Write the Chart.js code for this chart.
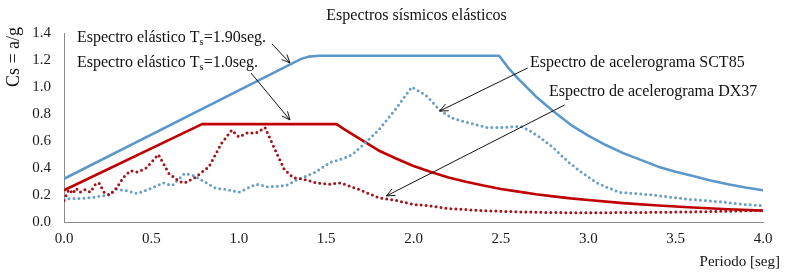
<!DOCTYPE html>
<html><head><meta charset="utf-8">
<script src="https://cdn.jsdelivr.net/npm/chart.js@4/dist/chart.umd.min.js"></script>
<style>html,body{margin:0;padding:0;background:#fff}canvas{display:block}</style>
</head><body>
<canvas id="c" width="786" height="273"></canvas>
<script>
// ---- Data ----
const elastic190T  = [0, 1.36, 1.40, 1.46, 2.49, 2.55, 2.60, 2.70, 2.80, 2.90, 3.00, 3.10, 3.20, 3.30, 3.40, 3.50, 3.60, 3.70, 3.80, 3.90, 4.00];
const elastic190Cs = [0.32, 1.21, 1.225, 1.232, 1.232, 1.13, 1.06, 0.93, 0.82, 0.72, 0.64, 0.57, 0.51, 0.46, 0.41, 0.373, 0.34, 0.308, 0.28, 0.256, 0.235];

const elastic100T  = [0, 0.79, 1.56, 1.60, 1.70, 1.80, 1.90, 2.00, 2.10, 2.20, 2.30, 2.40, 2.50, 2.60, 2.70, 2.80, 2.90, 3.00, 3.20, 3.40, 3.60, 3.80, 4.00];
const elastic100Cs = [0.235, 0.725, 0.725, 0.69, 0.61, 0.53, 0.47, 0.415, 0.37, 0.33, 0.298, 0.27, 0.245, 0.225, 0.206, 0.19, 0.175, 0.163, 0.14, 0.122, 0.107, 0.095, 0.084];

const sct85T  = [0, 0.05, 0.10, 0.15, 0.20, 0.26, 0.30, 0.36, 0.42, 0.50, 0.57, 0.62, 0.69, 0.75, 0.80, 0.87, 0.93, 1.00, 1.05, 1.10, 1.17, 1.27, 1.33, 1.44, 1.52, 1.60, 1.65, 1.71, 1.80, 1.90, 1.99, 2.07, 2.15, 2.22, 2.30, 2.42, 2.52, 2.61, 2.66, 2.72, 2.80, 2.89, 2.97, 3.05, 3.12, 3.18, 3.37, 3.56, 3.75, 3.90, 4.00];
const sct85Cs = [0.17, 0.175, 0.175, 0.18, 0.19, 0.20, 0.245, 0.23, 0.21, 0.25, 0.29, 0.27, 0.36, 0.34, 0.30, 0.25, 0.24, 0.22, 0.25, 0.28, 0.26, 0.27, 0.31, 0.37, 0.44, 0.47, 0.50, 0.57, 0.68, 0.84, 1.00, 0.94, 0.83, 0.77, 0.74, 0.70, 0.70, 0.71, 0.68, 0.63, 0.55, 0.44, 0.36, 0.29, 0.25, 0.22, 0.20, 0.17, 0.15, 0.13, 0.12];

const dx37T  = [0, 0.02, 0.03, 0.05, 0.07, 0.09, 0.12, 0.15, 0.18, 0.20, 0.23, 0.26, 0.30, 0.34, 0.38, 0.42, 0.47, 0.54, 0.60, 0.66, 0.69, 0.75, 0.83, 0.90, 0.96, 1.00, 1.05, 1.10, 1.15, 1.21, 1.26, 1.31, 1.39, 1.44, 1.52, 1.58, 1.69, 1.80, 1.90, 2.00, 2.09, 2.20, 2.38, 2.60, 2.80, 3.00, 3.20, 3.40, 3.60, 3.80, 4.00];
const dx37Cs = [0.16, 0.22, 0.24, 0.21, 0.25, 0.22, 0.24, 0.22, 0.28, 0.29, 0.22, 0.20, 0.25, 0.33, 0.38, 0.37, 0.40, 0.50, 0.36, 0.30, 0.29, 0.33, 0.41, 0.58, 0.68, 0.63, 0.66, 0.66, 0.70, 0.53, 0.39, 0.33, 0.31, 0.29, 0.28, 0.29, 0.24, 0.18, 0.16, 0.13, 0.12, 0.10, 0.085, 0.075, 0.07, 0.068, 0.07, 0.072, 0.075, 0.08, 0.086];

const xTickLabels = ['0.0', '0.5', '1.0', '1.5', '2.0', '2.5', '3.0', '3.5', '4.0'];
const yTickLabels = ['0.0', '0.2', '0.4', '0.6', '0.8', '1.0', '1.2', '1.4'];

const titleText = 'Espectros sísmicos elásticos';
const yTitle = 'Cs = a/g';
const xTitle = 'Periodo [seg]';

// annotation texts: [before subscript, subscript, after]
const labelTs190 = ['Espectro elástico T', 's', '=1.90seg.'];
const labelTs100 = ['Espectro elástico T', 's', '=1.0seg.'];
const labelSCT = 'Espectro de acelerograma SCT85';
const labelDX = 'Espectro de acelerograma DX37';

// ---- helpers ----
const pts = (xs, ys) => xs.map((x, i) => ({x: x, y: ys[i]}));
const SERIF = '"Liberation Serif", "Times New Roman", serif';
const BLUE = '#5b98c9';
const BLUE_DOT = '#6a9ec6';
const RED = '#c00000';
const RED_DOT = '#a3131b';

// annotation anchors in data units (T, Cs)
const notes = [
  {type: 'sub', parts: labelTs190, at: [0.074, 1.333], from: [1.19, 1.319], to: [1.293, 1.178]},
  {type: 'sub', parts: labelTs100, at: [0.074, 1.148], from: [1.07, 1.104], to: [1.293, 0.756]},
  {type: 'txt', text: labelSCT, at: [2.667, 1.148], from: [2.653, 1.141], to: [2.15, 0.822]},
  {type: 'txt', text: labelDX, at: [2.775, 0.933], from: [2.865, 0.867], to: [1.845, 0.193]}
];

const annotPlugin = {
  id: 'annot',
  afterDraw(chart) {
    const ctx = chart.ctx, xs = chart.scales.x, ys = chart.scales.y, ca = chart.chartArea;
    const px = v => xs.getPixelForValue(v), py = v => ys.getPixelForValue(v);
    ctx.save();
    ctx.fillStyle = '#111';
    ctx.textBaseline = 'alphabetic';
    // title
    ctx.font = '16px ' + SERIF;
    ctx.textAlign = 'center';
    ctx.fillText(titleText, (ca.left + ca.right) / 2 + 3, 20);
    // y title
    ctx.save();
    ctx.translate(19, 57);
    ctx.rotate(-Math.PI / 2);
    ctx.font = '18px ' + SERIF;
    ctx.fillText(yTitle, 0, 0);
    ctx.restore();
    // x title
    ctx.font = '15px ' + SERIF;
    ctx.textAlign = 'right';
    ctx.fillText(xTitle, 780, 266);
    // annotations
    ctx.textAlign = 'left';
    notes.forEach(n => {
      let x = px(n.at[0]), y = py(n.at[1]);
      if (n.type === 'sub') {
        ctx.font = '16px ' + SERIF;
        ctx.fillText(n.parts[0], x, y); x += ctx.measureText(n.parts[0]).width;
        ctx.font = '10.5px ' + SERIF;
        ctx.fillText(n.parts[1], x, y + 3); x += ctx.measureText(n.parts[1]).width;
        ctx.font = '16px ' + SERIF;
        ctx.fillText(n.parts[2], x, y);
      } else {
        ctx.font = '16px ' + SERIF;
        ctx.fillText(n.text, x, y);
      }
      // arrow
      const x1 = px(n.from[0]), y1 = py(n.from[1]), x2 = px(n.to[0]), y2 = py(n.to[1]);
      ctx.strokeStyle = '#111'; ctx.lineWidth = 1;
      ctx.beginPath(); ctx.moveTo(x1, y1); ctx.lineTo(x2, y2); ctx.stroke();
      const a = Math.atan2(y2 - y1, x2 - x1), L = 9, w = 0.42;
      ctx.beginPath();
      ctx.moveTo(x2 - L * Math.cos(a - w), y2 - L * Math.sin(a - w));
      ctx.lineTo(x2, y2);
      ctx.lineTo(x2 - L * Math.cos(a + w), y2 - L * Math.sin(a + w));
      ctx.stroke();
    });
    ctx.restore();
  }
};

const solid = (data, color) => ({data, borderColor: color, borderWidth: 2.6, pointRadius: 0, fill: false, tension: 0, borderJoinStyle: 'round'});
const dotted = (data, color) => ({data, borderColor: color, borderWidth: 3, pointRadius: 0, fill: false, tension: 0, borderDash: [0, 5], borderCapStyle: 'round'});

new Chart(document.getElementById('c'), {
  type: 'line',
  data: {
    datasets: [
      dotted(pts(dx37T, dx37Cs), RED_DOT),
      dotted(pts(sct85T, sct85Cs), BLUE_DOT),
      solid(pts(elastic100T, elastic100Cs), RED),
      solid(pts(elastic190T, elastic190Cs), BLUE)
    ]
  },
  options: {
    responsive: false,
    animation: false,
    devicePixelRatio: 1,
    layout: {padding: {top: 33, right: 23, bottom: 0, left: 0}},
    plugins: {legend: {display: false}, tooltip: {enabled: false}, title: {display: false}},
    scales: {
      x: {
        type: 'linear', min: 0, max: 4,
        grid: {display: false, drawTicks: false},
        border: {display: true, color: '#8a8a8a', width: 1},
        ticks: {stepSize: 0.5, padding: 8, color: '#1a1a1a', font: {family: SERIF, size: 15},
                callback: v => xTickLabels[Math.round(v / 0.5)], maxRotation: 0, autoSkip: false},
        afterFit: s => { s.height = 51; }
      },
      y: {
        type: 'linear', min: 0, max: 1.4,
        grid: {display: false, drawTicks: false},
        border: {display: true, color: '#8a8a8a', width: 1},
        ticks: {stepSize: 0.2, padding: 13, color: '#1a1a1a', font: {family: SERIF, size: 15},
                callback: v => yTickLabels[Math.round(v / 0.2)]},
        afterFit: s => { s.width = 64; }
      }
    }
  },
  plugins: [annotPlugin]
});
</script>
</body></html>
